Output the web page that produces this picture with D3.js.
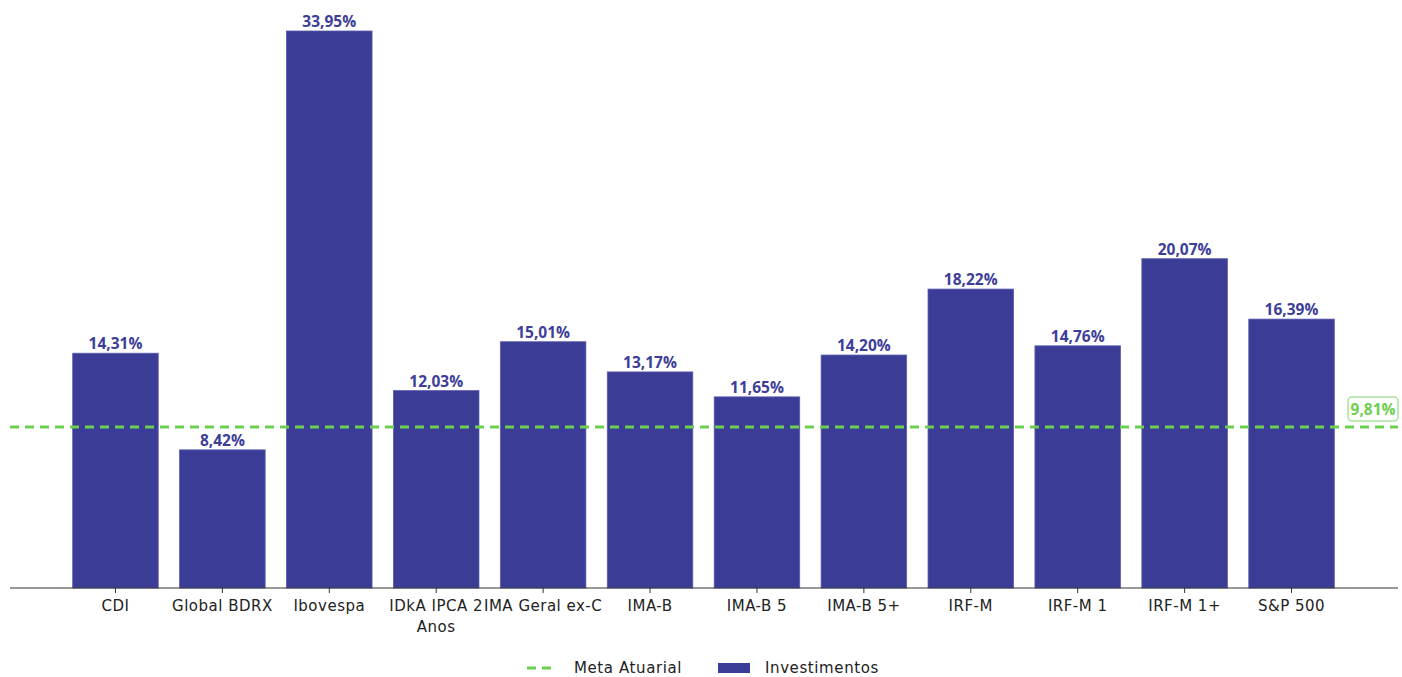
<!DOCTYPE html>
<html><head><meta charset="utf-8">
<script src="https://cdn.jsdelivr.net/npm/d3@7"></script>
<style>
body{margin:0;background:#fff;}
svg{display:block;font-family:"DejaVu Sans",sans-serif;}
.val{font-family:"Open Sans","Noto Sans",sans-serif;}
</style></head>
<body><svg id="chart" width="1402" height="677"></svg>
<script>
const categories = ["CDI","Global BDRX","Ibovespa","IDkA IPCA 2 Anos","IMA Geral ex-C","IMA-B","IMA-B 5","IMA-B 5+","IRF-M","IRF-M 1","IRF-M 1+","S&P 500"];
const investimentos = [14.31, 8.42, 33.95, 12.03, 15.01, 13.17, 11.65, 14.20, 18.22, 14.76, 20.07, 16.39];
const metaAtuarial = 9.81;
const legendLabels = ["Meta Atuarial","Investimentos"];

const barColor = "#3b3c96", labelColor = "#3d3e98", green = "#6dcf50";
const svg = d3.select("#chart");
const fmt = v => v.toFixed(2).replace(".", ",") + "%";

const x = d3.scaleBand().domain(categories).range([62, 1345]).paddingInner(0.2).paddingOuter(0.1);
const y = d3.scaleLinear().domain([0, d3.max(investimentos)]).range([588, 31]);

// bars
svg.append("g").selectAll("rect").data(investimentos).join("rect")
  .attr("x", (d,i) => x(categories[i]))
  .attr("width", x.bandwidth())
  .attr("y", d => y(d))
  .attr("height", d => y(0) - y(d))
  .attr("fill", barColor)
  .attr("stroke", "#5a5bb0").attr("stroke-width", 0.8);

// value labels
svg.append("g").selectAll("text").data(investimentos).join("text")
  .attr("class", "val")
  .attr("x", (d,i) => x(categories[i]) + x.bandwidth()/2)
  .attr("y", d => y(d) - 4)
  .attr("text-anchor", "middle")
  .attr("font-size", 15.5).attr("font-weight", 700)
  .attr("fill", labelColor)
  .text(d => fmt(d));

// axis
const axis = svg.append("g").attr("transform", `translate(0,${y(0)})`)
  .call(d3.axisBottom(x).tickSize(5).tickSizeOuter(0));
axis.select(".domain").remove();
axis.selectAll(".tick line").attr("stroke", "#333");
axis.selectAll(".tick text").attr("font-size", 15).attr("letter-spacing", 0.5)
  .attr("font-family", "DejaVu Sans").attr("fill", "#222").attr("y", 0).attr("dy", null)
  .each(function(d){
    const t = d3.select(this);
    t.text(null);
    const lines = d === "IDkA IPCA 2 Anos" ? ["IDkA IPCA 2", "Anos"] : [d];
    lines.forEach((s, k) => t.append("tspan").attr("x", 0).attr("y", 23 + k * 21).text(s));
  });
svg.append("line").attr("x1", 10).attr("x2", 1398).attr("y1", y(0)).attr("y2", y(0))
  .attr("stroke", "#333").attr("stroke-width", 1);

// meta line
svg.append("line").attr("x1", 10).attr("x2", 1398)
  .attr("y1", y(metaAtuarial)).attr("y2", y(metaAtuarial))
  .attr("stroke", green).attr("stroke-width", 3).attr("stroke-dasharray", "9,6");

// meta label
const mg = svg.append("g").attr("transform", `translate(1373,${y(metaAtuarial) - 18})`);
mg.append("rect").attr("x", -25).attr("y", -12).attr("width", 50).attr("height", 24).attr("rx", 4)
  .attr("fill", "#fff").attr("stroke", "#a8e39a").attr("stroke-width", 1.5);
mg.append("text").attr("class", "val").attr("text-anchor", "middle").attr("dy", "0.36em")
  .attr("font-size", 15.5).attr("font-weight", 700).attr("fill", green).text(fmt(metaAtuarial));

// legend
const lg = svg.append("g").attr("font-size", 15).attr("letter-spacing", 0.6).attr("fill", "#222");
lg.append("line").attr("x1", 527).attr("x2", 557).attr("y1", 668).attr("y2", 668)
  .attr("stroke", green).attr("stroke-width", 3).attr("stroke-dasharray", "9,6");
lg.append("text").attr("x", 574).attr("y", 668).attr("dy", "0.36em").text(legendLabels[0]);
lg.append("rect").attr("x", 718).attr("y", 663).attr("width", 32).attr("height", 10).attr("fill", barColor);
lg.append("text").attr("x", 765).attr("y", 668).attr("dy", "0.36em").text(legendLabels[1]);
</script></body></html>
